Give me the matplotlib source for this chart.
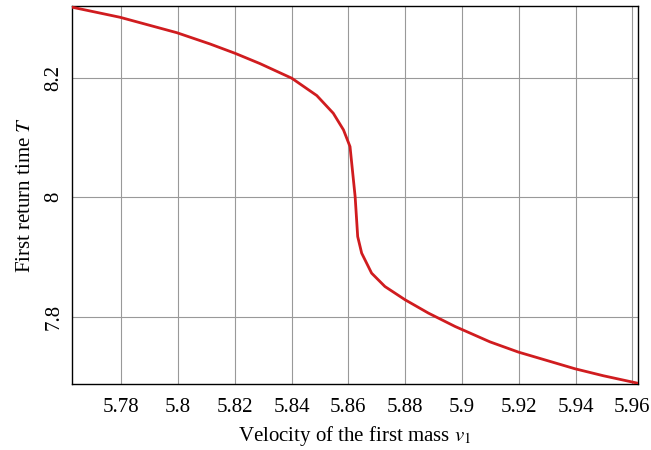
import numpy as np
import matplotlib
matplotlib.use("Agg")
import matplotlib.pyplot as plt

plt.rcParams["font.family"] = ["Liberation Serif", "DejaVu Serif"]
plt.rcParams["mathtext.fontset"] = "stix"

# curve (velocity v1, first return time T)
v1 = [5.7627, 5.7796, 5.7996, 5.8113, 5.8201, 5.8289, 5.8401, 5.8489,
      5.8547, 5.8583, 5.8606, 5.8624, 5.8633, 5.8647, 5.8682, 5.8729,
      5.8800, 5.8882, 5.8976, 5.9099, 5.9199, 5.9299, 5.9398,
      5.9498, 5.9617]
T = [8.318, 8.3011, 8.2753, 8.2564, 8.2408, 8.2235, 8.199, 8.170,
     8.1404, 8.1125, 8.0845, 8.0008, 7.9339, 7.9061, 7.8726, 7.8502,
     7.8280, 7.8057, 7.7833, 7.7575, 7.7404, 7.7264, 7.7125,
     7.7008, 7.6885]

xticks = [5.78, 5.80, 5.82, 5.84, 5.86, 5.88, 5.90, 5.92, 5.94, 5.96]
xticklabels = ["5.78", "5.8", "5.82", "5.84", "5.86", "5.88", "5.9", "5.92", "5.94", "5.96"]
yticks = [7.8, 8.0, 8.2]
yticklabels = ["7.8", "8", "8.2"]

fig = plt.figure(figsize=(6.51, 4.5), dpi=100)
ax = fig.add_axes([0.1106, 0.1467, 0.8694, 0.84])

ax.plot(v1, T, color="#d01c1f", lw=2.0, zorder=3, solid_joinstyle="round")

ax.set_xlim(5.7627, 5.962)
ax.set_ylim(7.687, 8.32)
ax.set_xticks(xticks)
ax.set_xticklabels(xticklabels)
ax.set_yticks(yticks)
ax.set_yticklabels(yticklabels, rotation=90, va="center")
ax.tick_params(direction="in", length=0, labelsize=15)
ax.tick_params(axis="x", pad=10)
ax.tick_params(axis="y", pad=6)
ax.grid(True, color="#999999", lw=0.8)
for s in ax.spines.values():
    s.set_linewidth(1.0)

ax.set_xlabel("Velocity of the first mass $v_1$", fontsize=15, labelpad=5)
ax.set_ylabel("First return time $T$", fontsize=15, labelpad=7)

fig.savefig("out.png", dpi=100)
